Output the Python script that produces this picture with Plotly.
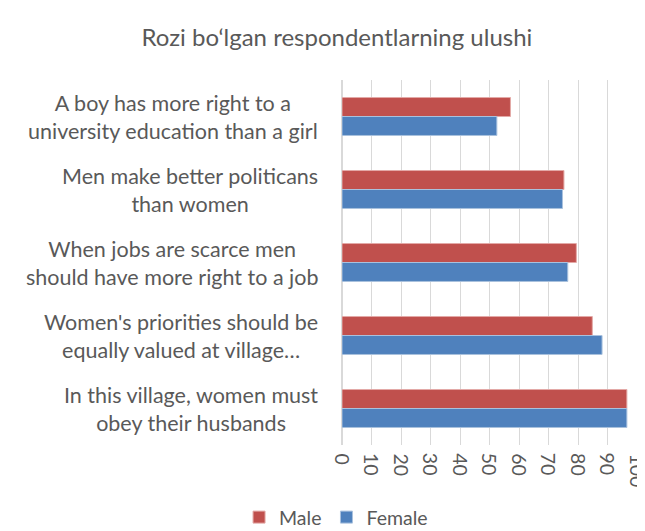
import plotly.graph_objects as go

# categories, top to bottom as in the chart
categories = [
    "A boy has more right to a<br>university education than a girl",
    "Men make better politicans<br>than women",
    "When jobs are scarce men<br>should have more right to a job",
    "Women's priorities should be<br>equally valued at village…",
    "In this village, women must<br>obey their husbands",
]
male = [57.0, 75.1, 79.3, 84.7, 96.4]
female = [52.4, 74.6, 76.4, 88.0, 96.4]
x_ticks = list(range(0, 101, 10))

grey = "#595959"
font_family = "Lato, Noto Sans, sans-serif"

fig = go.Figure()
fig.add_trace(go.Bar(y=categories, x=male, name="Male", orientation="h",
                     marker=dict(color="#C0504D", line=dict(color="#E3A9A7", width=1))))
fig.add_trace(go.Bar(y=categories, x=female, name="Female", orientation="h",
                     marker=dict(color="#4F81BD", line=dict(color="#A9C1DE", width=1))))

# category labels as centred multi-line annotations (Excel style)
for c in categories:
    fig.add_annotation(text=c, xref="paper", yref="y", x=-0.075, y=c,
                       xanchor="right", yanchor="middle", align="center",
                       showarrow=False, font=dict(size=21.5, color=grey, family=font_family))

# rotated x tick labels as annotations so "100" is not clipped at the axis end
for t in x_ticks:
    fig.add_annotation(text=str(t), xref="x", yref="paper", x=t, y=0, yshift=-6,
                       xanchor="center", yanchor="top", textangle=90,
                       showarrow=False, font=dict(size=19.5, color=grey, family=font_family))

fig.update_layout(
    width=645, height=531,
    margin=dict(l=334, r=14, t=72, b=94, autoexpand=False),
    paper_bgcolor="white", plot_bgcolor="white",
    font=dict(family=font_family, size=20, color=grey),
    title=dict(text="Rozi bo‘lgan respondentlarning ulushi", x=0.51, xanchor="center",
               y=0.945, yanchor="middle", font=dict(size=24, color=grey)),
    barmode="group", bargap=0.48, bargroupgap=0,
    showlegend=True,
    legend=dict(orientation="h", x=-0.02, xanchor="center",
                y=-0.145, yanchor="top", font=dict(size=19.5),
                itemwidth=30, tracegroupgap=0),
)
fig.update_xaxes(range=[0, 100.5], tickvals=x_ticks, showticklabels=False,
                 showgrid=True, gridcolor="#D9D9D9", gridwidth=1,
                 zeroline=True, zerolinecolor="#D9D9D9", showline=False)
fig.update_yaxes(autorange="reversed", showgrid=False, showticklabels=False, ticks="")

fig.write_html("out.html")
